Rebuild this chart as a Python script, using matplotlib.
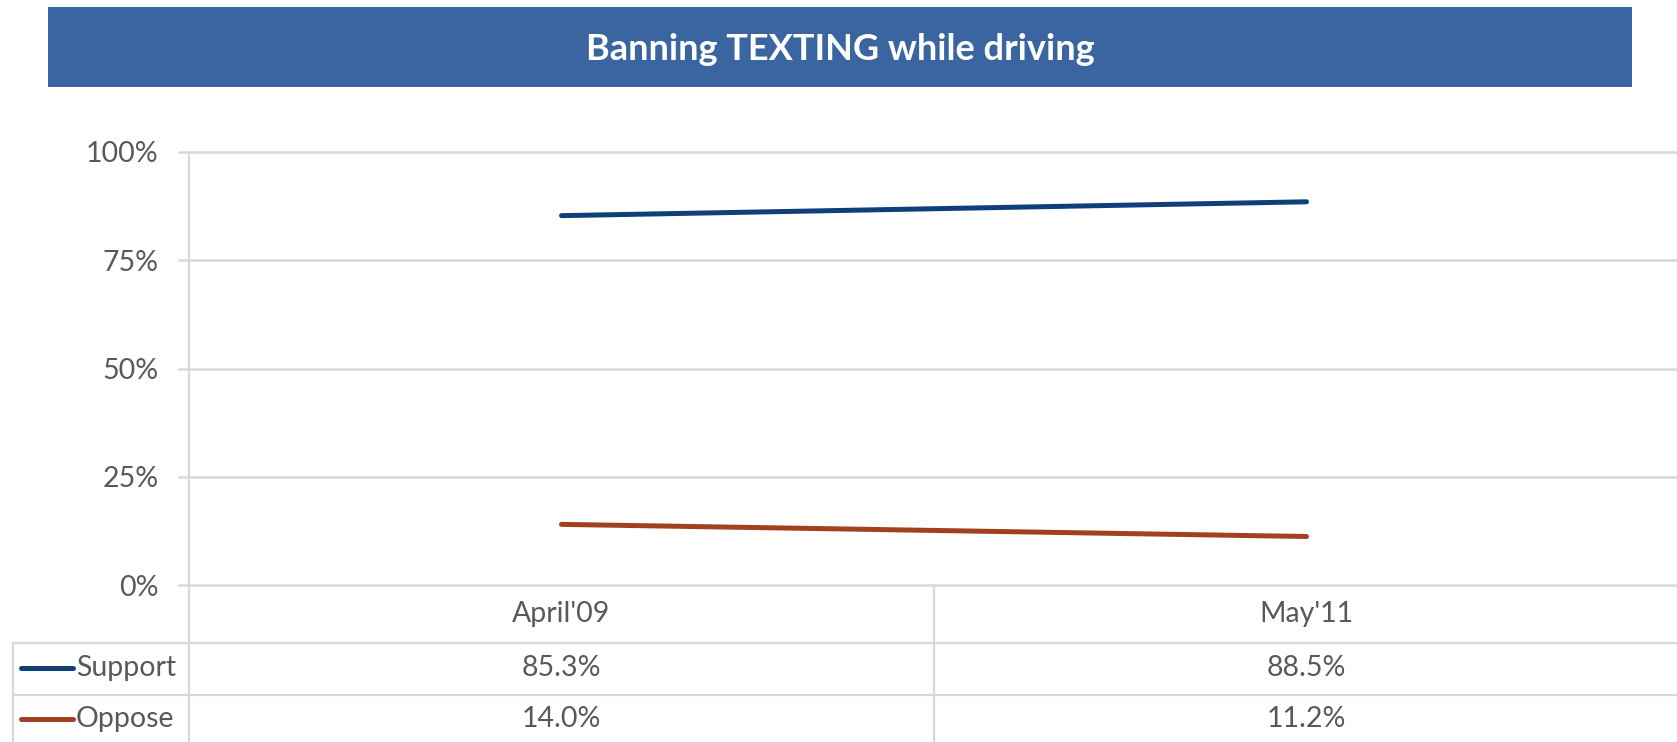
import matplotlib
matplotlib.use("Agg")
import matplotlib.pyplot as plt
import matplotlib.transforms as mtransforms
from matplotlib.patches import Rectangle

# ---- data ----
title = "Banning TEXTING while driving"
categories = ["April'09", "May'11"]
series_names = ["Support", "Oppose"]
support = [85.3, 88.5]
oppose = [14.0, 11.2]
yticks = [0, 25, 50, 75, 100]
series_values = [support, oppose]
series_colors = ["#0E3F7A", "#A2401F"]

W, H = 1677, 742
fig = plt.figure(figsize=(W / 100, H / 100), dpi=100)
plt.rcParams['font.family'] = ['Lato', 'DejaVu Sans']

grid_c = "#D9D9D9"
txt_c = "#595959"
fs = 20.5

# overlay axes in pixel coords
ov = fig.add_axes([0, 0, 1, 1], zorder=0)
ov.set_xlim(0, W)
ov.set_ylim(H, 0)
ov.axis("off")

# main axes: x from 189 to 1679 px, y from 152 (100%) to 585 (0%)
ax_l, ax_r, ax_t, ax_b = 189, 1679, 152, 585
ax = fig.add_axes([ax_l / W, (H - ax_b) / H, (ax_r - ax_l) / W, (ax_b - ax_t) / H], zorder=2)
ax.patch.set_alpha(0)
ax.set_xlim(-0.5, len(categories) - 0.5)
ax.set_ylim(0, 100)
for s in ax.spines.values():
    s.set_visible(False)
ax.set_xticks([])
ax.set_yticks(yticks)
ax.set_yticklabels([f"{v}%" for v in yticks], fontsize=fs, color=txt_c)
ax.tick_params(axis="y", length=0, pad=22)
for v in yticks:
    ax.axhline(v, color=grid_c, lw=1.8, zorder=1, clip_on=False)

x = list(range(len(categories)))
for vals, c in zip(series_values, series_colors):
    ax.plot(x, vals, color=c, lw=3.6, solid_capstyle="round", zorder=3)

# title band
ov.add_patch(Rectangle((48, 7), 1632 - 48, 80, color="#3A65A0", lw=0))
ov.text((48 + 1632) / 2, 50, title, ha="center", va="center", color="white",
        fontsize=26, fontweight="bold")

# tick marks left of axis
for v in yticks:
    yp = ax_b - (ax_b - ax_t) * v / 100
    ov.plot([179, ax_l], [yp, yp], color=grid_c, lw=1.8)

# table lines
lw = 1.6
ov.plot([ax_l, ax_l], [ax_t, H], color=grid_c, lw=lw)         # y axis line
ov.plot([13, W], [643, 643], color=grid_c, lw=lw)
ov.plot([13, W], [695, 695], color=grid_c, lw=lw)
ov.plot([13, 13], [643, H], color=grid_c, lw=lw)

blend = mtransforms.blended_transform_factory(ax.transData, ov.transData)
for i in range(len(categories) - 1):
    ov.plot([i + 0.5, i + 0.5], [585, H], color=grid_c, lw=lw, transform=blend)

# category labels
for i, cat in enumerate(categories):
    ov.text(i, 614, cat, ha="center", va="center", fontsize=fs, color=txt_c, transform=blend)

# rows
row_y = [668, 719]
for name, vals, c, yy in zip(series_names, series_values, series_colors, row_y):
    ov.plot([21, 73], [yy, yy], color=c, lw=3.6, solid_capstyle="round")
    ov.text(76, yy, name, ha="left", va="center", fontsize=fs, color=txt_c)
    for i, v in enumerate(vals):
        ov.text(i, yy, f"{v:.1f}%", ha="center", va="center", fontsize=fs, color=txt_c,
                transform=blend)

fig.savefig("out.png", dpi=100)
